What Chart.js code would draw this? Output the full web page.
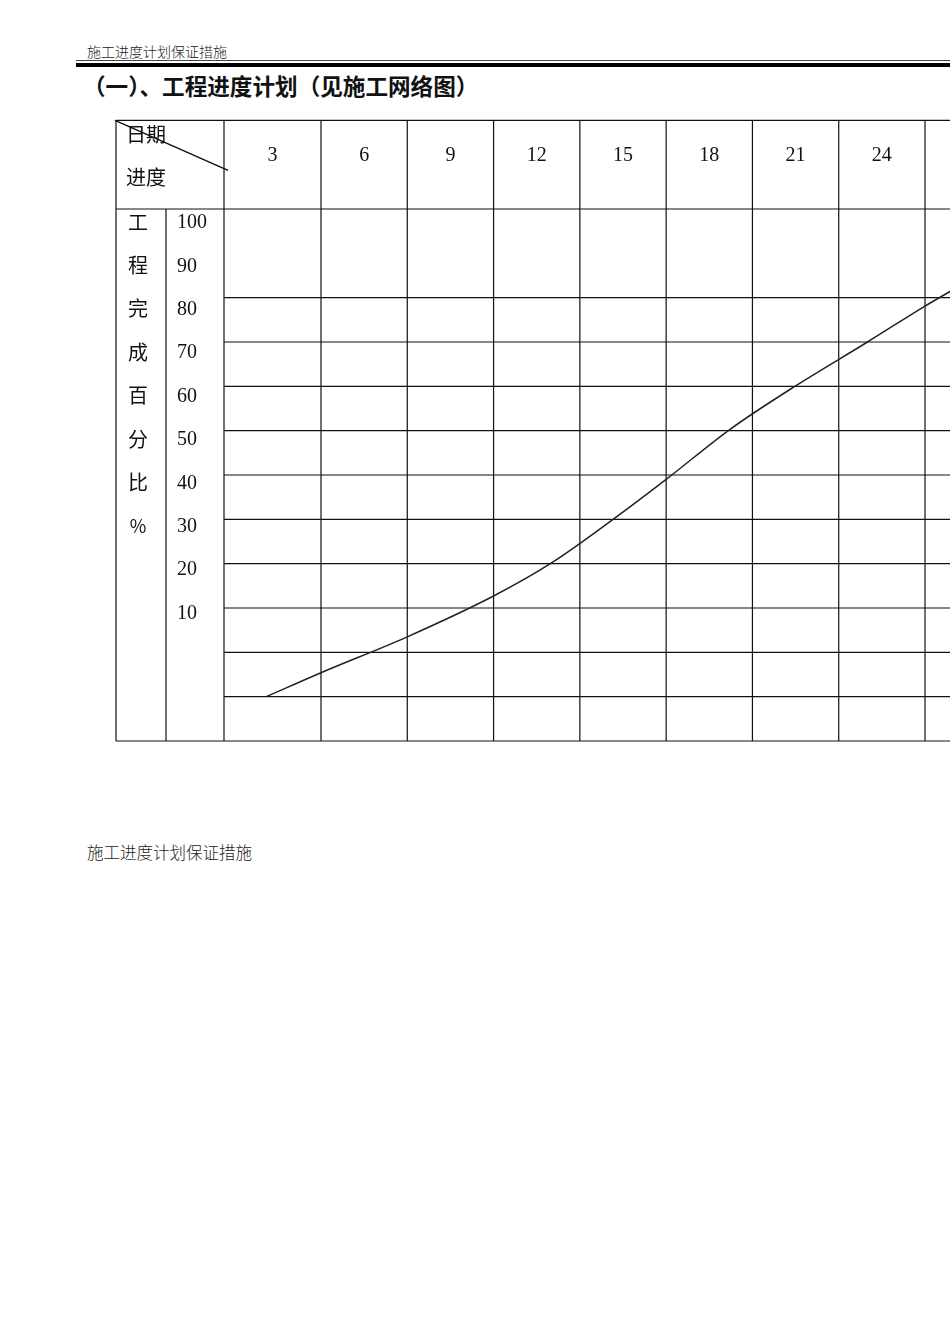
<!DOCTYPE html>
<html>
<head>
<meta charset="utf-8">
<script src="https://cdn.jsdelivr.net/npm/chart.js@4.4.0/dist/chart.umd.min.js"></script>
<style>
  html, body { margin: 0; padding: 0; background: #fff; }
  body { width: 950px; height: 1344px; position: relative; overflow: hidden; }
  .txt { position: absolute; white-space: nowrap; color: #111; font-family: "Noto Sans CJK SC", sans-serif; line-height: 1; }
  #head { left: 87px; top: 44px; font-size: 14px; font-weight: 300; color: #222; }
  #rule1 { position: absolute; left: 76px; right: 0; top: 60px; height: 1px; background: #444; }
  #rule2 { position: absolute; left: 76px; right: 0; top: 63px; height: 4px; background: #000; }
  #title { left: 83px; top: 75px; font-size: 22.6px; font-weight: 700; }
  #foot { left: 87px; top: 844px; font-size: 16.5px; font-weight: 300; color: #222; }
  #sheet { position: absolute; left: 0; top: 100px; }
</style>
</head>
<body>
<div class="txt" id="head">施工进度计划保证措施</div>
<div id="rule1"></div>
<div id="rule2"></div>
<div class="txt" id="title">（一）、工程进度计划（见施工网络图）</div>
<canvas id="sheet" width="1012" height="660"></canvas>
<div class="txt" id="foot">施工进度计划保证措施</div>

<script>
// column labels (days) and the column edges between them
var dayLabels = ['3', '6', '9', '12', '15', '18', '21', '24', '27']
var dayEdges = [4.5, 7.5, 10.5, 13.5, 16.5, 19.5, 22.5, 25.5, 28.5]

// row labels written in the left columns
var pctLabels = ['100', '90', '80', '70', '60', '50', '40', '30', '20', '10']
var sideChars = ['工', '程', '完', '成', '百', '分', '比', '%']
var rowLines = [0, 10, 20, 30, 40, 50, 60, 70, 80, 90]

// progress curve
var curveDays = [2.6, 4.5, 7.5, 10.5, 12.5, 14.7, 16.5, 18.7, 21.0, 23.5, 25.5, 26.4]
var curvePct = [0, 5.4, 13.5, 22.7, 30.1, 40.2, 49.0, 60.2, 70.1, 80.0, 88.1, 91.5]

var points = curveDays.map(function (d, i) { return { x: d, y: curvePct[i] } })

var serif = '"Liberation Serif", "DejaVu Serif", serif'
var cjk = '"Noto Sans CJK SC", sans-serif'

var sheetGrid = {
  id: 'sheetGrid',
  beforeDatasetsDraw: function (chart) {
    var ctx = chart.ctx
    var xs = chart.scales.x
    var ys = chart.scales.y
    var right = chart.width
    var top = ys.getPixelForValue(130)
    var headBot = ys.getPixelForValue(110)
    var bot = ys.getPixelForValue(-10)
    var firstEdge = xs.left - 10.7
    var colMid = xs.left - 68.7
    var tableLeft = xs.left - 118.7

    ctx.save()
    ctx.strokeStyle = '#111'
    ctx.lineWidth = 1.2

    function line(x1, y1, x2, y2) {
      ctx.beginPath()
      ctx.moveTo(x1, y1)
      ctx.lineTo(x2, y2)
      ctx.stroke()
    }

    // outer lines and header row
    line(tableLeft, top, right, top)
    line(tableLeft, headBot, right, headBot)
    line(tableLeft, bot, right, bot)
    rowLines.forEach(function (v) {
      var py = ys.getPixelForValue(v)
      line(firstEdge, py, right, py)
    })

    line(tableLeft, top, tableLeft, bot)
    line(colMid, headBot, colMid, bot)
    line(firstEdge, top, firstEdge, bot)
    dayEdges.forEach(function (v) {
      var px = xs.getPixelForValue(v)
      line(px, top, px, bot)
    })

    // diagonal in the corner cell
    ctx.lineWidth = 1.5
    line(tableLeft - 1, top, firstEdge + 4, top + 50)

    // header numbers
    ctx.fillStyle = '#111'
    ctx.textAlign = 'center'
    ctx.textBaseline = 'middle'
    ctx.font = '20px ' + serif
    var edgesPx = [firstEdge].concat(dayEdges.map(function (v) { return xs.getPixelForValue(v) }))
    dayLabels.forEach(function (lab, i) {
      ctx.fillText(lab, (edgesPx[i] + edgesPx[i + 1]) / 2, top + 35)
    })

    // corner cell text
    ctx.textAlign = 'left'
    ctx.font = '20px ' + cjk
    ctx.fillText('日期', tableLeft + 10, top + 14)
    ctx.fillText('进度', tableLeft + 10, top + 57)

    // left columns
    var lineStep = 43.4
    ctx.textAlign = 'center'
    sideChars.forEach(function (c, i) {
      ctx.font = (c === '%' ? '18px ' : '20px ') + cjk
      ctx.fillText(c, (tableLeft + colMid) / 2 - 3, headBot + 13 + i * lineStep)
    })
    ctx.textAlign = 'left'
    ctx.font = '20px ' + serif
    pctLabels.forEach(function (lab, i) {
      ctx.fillText(lab, colMid + 11, headBot + 14 + i * lineStep)
    })
    ctx.restore()
  }
}

var chart = new Chart(document.getElementById('sheet'), {
  type: 'line',
  data: {
    datasets: [{
      label: '工程完成百分比',
      data: points,
      borderColor: '#222',
      borderWidth: 1.5,
      pointRadius: 0,
      fill: false,
      cubicInterpolationMode: 'monotone'
    }]
  },
  options: {
    responsive: false,
    animation: false,
    layout: { padding: { left: 234.7, right: 0.7, top: 109, bottom: 19 } },
    plugins: { legend: { display: false }, tooltip: { enabled: false } },
    scales: {
      x: { type: 'linear', min: 1.5, max: 28.5, display: false },
      y: { type: 'linear', min: -10, max: 110, display: false }
    }
  },
  plugins: [sheetGrid]
})
</script>
</body>
</html>
